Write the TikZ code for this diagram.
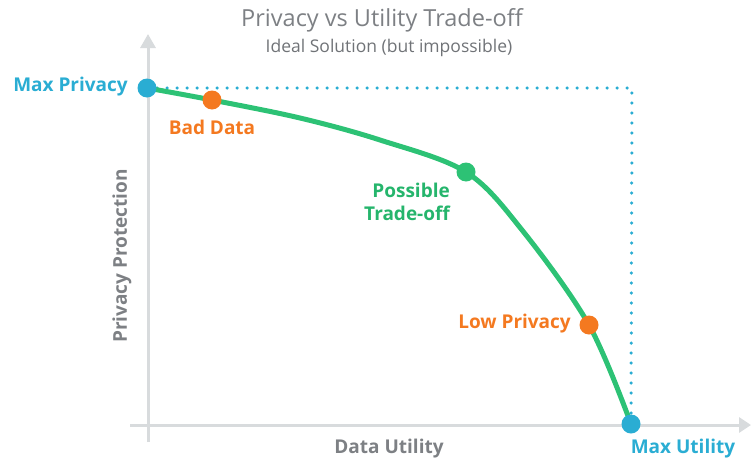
\documentclass[tikz,border=0pt]{standalone}
\usepackage{fontspec}
\setmainfont{Open Sans}
\usetikzlibrary{arrows.meta}
\definecolor{cblue}{HTML}{2AADD3}
\definecolor{corange}{HTML}{F47920}
\definecolor{cgreen}{HTML}{2DC275}
\definecolor{cgreentxt}{HTML}{25B56C}
\definecolor{cgray}{HTML}{7D8084}
\definecolor{caxis}{HTML}{D8DBDD}
\tikzset{
  lbl/.style={font=\fontsize{19}{23}\selectfont\bfseries, inner sep=0pt},
  dot/.style={circle, fill=#1, minimum size=19pt, inner sep=0pt},
  axis/.style={draw=caxis, line width=3pt},
}
\begin{document}
\begin{tikzpicture}[x=1pt,y=-1pt]
\useasboundingbox (0,0) rectangle (751,463);
% axes
\coordinate (yb) at (148,442);
\coordinate (yt) at (148,34);
\coordinate (xl) at (130,425);
\coordinate (xr) at (751,425);
\draw[axis, -{Triangle[length=14pt,width=15pt]}] (yb) -- (yt);
\draw[axis, -{Triangle[length=12pt,width=15pt]}] (xl) -- (xr);
% points
\coordinate (pmax) at (147,88);
\coordinate (pbad) at (212,100);
\coordinate (ptr) at (466,172);
\coordinate (plow) at (589,325);
\coordinate (putil) at (631,424);
\coordinate (corner) at (632,88);
% dotted ideal
\draw[cblue, line width=3.5pt, line cap=round, dash pattern=on 0pt off 10pt] (pmax) -- (corner) -- (putil);
% curve
\draw[cgreen, line width=5pt, line cap=round, line join=round] plot[smooth, tension=0.55] coordinates {(147,88) (212,100) (300,118) (380,140) (466,172) (522,230) (589,325) (631,424)};
% dots
\node[dot=cblue] (nmax) at (pmax) {};
\node[dot=corange] (nbad) at (pbad) {};
\node[dot=cgreen] (ntr) at (ptr) {};
\node[dot=corange] (nlow) at (plow) {};
\node[dot=cblue] (nutil) at (putil) {};
% labels
\node[lbl, text=cblue, anchor=east] (tmax) at (128,87) {Max Privacy};
\node[lbl, text=corange] (tbad) at (212,127) {Bad Data};
\node[lbl, text=cgreentxt, align=right, anchor=east] (ttr) at (450,202) {Possible\\Trade-off};
\node[lbl, text=corange, anchor=east] (tlow) at (571,324) {Low Privacy};
\node[lbl, text=cblue] (tutil) at (683,449) {Max Utility};
\node[lbl, text=cgray] (tdu) at (389,449) {Data Utility};
\node[lbl, text=cgray, rotate=90] (tpp) at (122,256) {Privacy Protection};
% title
\node[text=cgray, font=\fontsize{23.5}{27}\selectfont, inner sep=0pt] (title) at (382,20) {Privacy vs Utility Trade-off};
\node[text=cgray!90!black, font=\fontsize{17.5}{20}\selectfont, inner sep=0pt] (sub) at (389,48) {Ideal Solution (but impossible)};
\end{tikzpicture}
\end{document}
